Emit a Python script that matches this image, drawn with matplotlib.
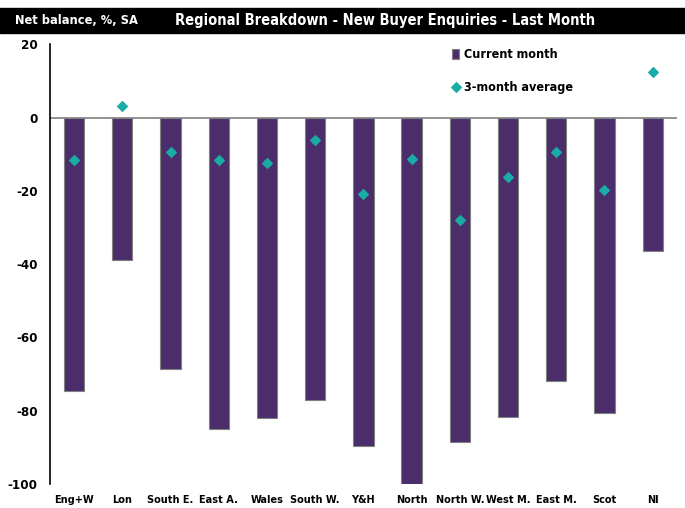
import matplotlib
matplotlib.use('Agg')
import matplotlib.pyplot as plt
from matplotlib.patches import Rectangle
import numpy as np

plt.rcParams['font.family'] = ['DejaVu Sans']
plt.rcParams['font.stretch'] = 'condensed'
plt.rcParams['font.weight'] = 'bold'
plt.rcParams['axes.unicode_minus'] = False

regions = ['Eng+W', 'Lon', 'South E.', 'East A.', 'Wales', 'South W.', 'Y&H',
           'North', 'North W.', 'West M.', 'East M.', 'Scot', 'NI']
current_month = [-74.5, -39, -68.5, -85, -82, -77, -89.7,
                 -100, -88.5, -81.7, -72, -80.7, -36.5]
avg_3m = [-11.6, 3.1, -9.5, -11.7, -12.4, -6.2, -20.9,
          -11.3, -28, -16.3, -9.5, -19.8, 12.3]
yticks = [20, 0, -20, -40, -60, -80, -100]

purple = '#4B2D6B'
teal = '#1AADA5'

fig = plt.figure(figsize=(6.85, 5.08), dpi=100)
ax = fig.add_axes([0.073, 0.047, 0.915, 0.866])

x = np.arange(len(regions))
bars = ax.bar(x, current_month, width=0.42, color=purple, edgecolor='#808080',
              linewidth=0.8, label='Current month', zorder=2)
pts = ax.scatter(x, avg_3m, marker='D', s=24, color=teal, label='3-month average', zorder=3)

ax.axhline(0, color='#808080', linewidth=1.2, zorder=1)
ax.set_xlim(-0.5, 12.5)
ax.set_ylim(-100, 20)
ax.set_yticks(yticks)
ax.set_xticks(x)
ax.set_xticklabels(regions, fontsize=7.8)
for s in ['top', 'right', 'bottom']:
    ax.spines[s].set_visible(False)
ax.spines['left'].set_linewidth(1.2)
ax.tick_params(axis='both', length=0)
ax.tick_params(axis='y', labelsize=9.5, pad=9)
ax.tick_params(axis='x', pad=8)

leg = fig.legend(handles=[bars, pts], loc='upper left',
                 bbox_to_anchor=(452 / 685, 1 - 48 / 508),
                 frameon=False, fontsize=9, handlelength=0.6, handleheight=0.9,
                 handletextpad=0.4, labelspacing=1.6, borderpad=0, borderaxespad=0)

# black title band
fig.patches.append(Rectangle((0, 1 - 33 / 508), 1, 25 / 508, transform=fig.transFigure,
                             color='black', zorder=0))
fig.text(15 / 685, 1 - 20 / 508, 'Net balance, %, SA', color='white', fontsize=9.2,
         va='center', ha='left')
fig.text(385 / 685, 1 - 20 / 508, 'Regional Breakdown - New Buyer Enquiries - Last Month',
         color='white', fontsize=10.5, va='center', ha='center')

fig.savefig('out.png', dpi=100)
